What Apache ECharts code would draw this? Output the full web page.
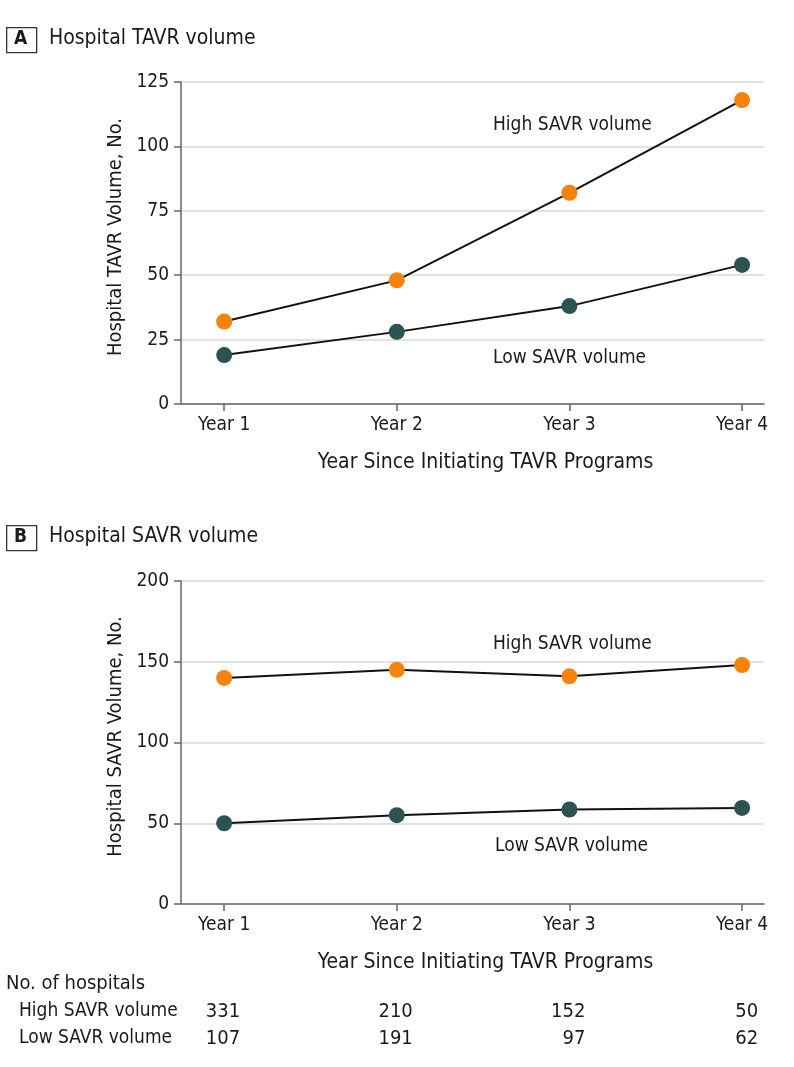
<!DOCTYPE html>
<html>
<head>
<meta charset="utf-8">
<script src="https://cdn.jsdelivr.net/npm/echarts@6/dist/echarts.min.js"></script>
<style>
  html, body { margin: 0; padding: 0; background: #fff; }
  #chart { width: 794px; height: 1067px; }
</style>
</head>
<body>
<div id="chart"></div>
<script>
  // data
  const years = ['Year 1', 'Year 2', 'Year 3', 'Year 4']
  const tavrHigh = [32, 48, 82, 118]
  const tavrLow = [19, 28, 38, 54]
  const savrHigh = [140, 145, 141, 148]
  const savrLow = [50, 55, 58.5, 59.5]
  const tableRows = ['High SAVR volume', 'Low SAVR volume']
  const hospitalsHigh = [331, 210, 152, 50]
  const hospitalsLow = [107, 191, 97, 62]
  const tavrTicks = [0, 25, 50, 75, 100, 125]
  const savrTicks = [0, 50, 100, 150, 200]

  const FONT = '"Liberation Sans Narrow", "DejaVu Sans Condensed", sans-serif'
  const ORANGE = '#f7830c'
  const GREEN = '#2b5351'
  const TEXT = '#1a1a1a'

  const pts = (arr) => arr.map((v, i) => [i + 1, v])

  function xAxis(gridIndex, withLabels) {
    return {
      gridIndex: gridIndex,
      type: 'value',
      min: 0.75,
      max: 4.127,
      name: withLabels ? 'Year Since Initiating TAVR Programs' : '',
      nameLocation: 'middle',
      nameGap: 48,
      nameTextStyle: { fontFamily: FONT, fontSize: 21, color: TEXT, padding: [0, 0, 0, 26] },
      splitLine: { show: false },
      axisLine: { show: withLabels, lineStyle: { color: '#666', width: 1.5 } },
      axisTick: { show: withLabels, customValues: [1, 2, 3, 4], length: 7, lineStyle: { color: '#666', width: 1.5 } },
      axisLabel: {
        show: withLabels,
        customValues: [1, 2, 3, 4],
        margin: 12,
        fontFamily: FONT,
        fontSize: 19,
        color: TEXT,
        formatter: (v) => years[Math.round(v) - 1]
      }
    }
  }

  function yAxis(gridIndex, max, interval, name) {
    return {
      gridIndex: gridIndex,
      type: 'value',
      min: 0,
      max: max,
      interval: interval,
      name: name,
      nameLocation: 'middle',
      nameGap: 55,
      nameMoveOverlap: false,
      nameRotate: 90,
      nameTextStyle: { fontFamily: FONT, fontSize: 20, color: TEXT, padding: [0, 0, 0, 12] },
      axisLine: { show: true, lineStyle: { color: '#666', width: 1.5 } },
      axisTick: { show: true, length: 7, lineStyle: { color: '#666', width: 1.5 } },
      axisLabel: { margin: 12, fontFamily: FONT, fontSize: 19, color: TEXT },
      splitLine: { show: true, lineStyle: { color: '#d9d9d9', width: 1.5 } }
    }
  }

  function lineSeries(xi, data, color) {
    return {
      type: 'line',
      xAxisIndex: xi,
      yAxisIndex: xi,
      data: pts(data),
      symbol: 'circle',
      symbolSize: 16,
      lineStyle: { color: '#111', width: 2 },
      itemStyle: { color: color },
      z: 3,
      animation: false
    }
  }

  // number-of-hospitals row, one label per year
  function tableSeries(row, values) {
    return {
      type: 'scatter',
      xAxisIndex: 2,
      yAxisIndex: 2,
      symbolSize: 0,
      itemStyle: { opacity: 1 },
      data: values.map((v, i) => [i + 1, row, v]),
      label: {
        show: true,
        position: [16, 0],
        align: 'right',
        verticalAlign: 'middle',
        fontFamily: FONT,
        fontSize: 20,
        color: TEXT,
        formatter: (p) => String(p.value[2])
      },
      animation: false
    }
  }

  function panelTitle(letter, title, y) {
    return [
      { type: 'rect', left: 6, top: y, shape: { width: 30, height: 25 }, style: { fill: '#fff', stroke: '#333', lineWidth: 1.3 } },
      { type: 'text', left: 14, top: y + 3, style: { text: letter, font: 'bold 19px ' + FONT, fill: TEXT } },
      { type: 'text', left: 49, top: y + 1, style: { text: title, font: '21px ' + FONT, fill: TEXT } }
    ]
  }

  function note(text, x, y) {
    return { type: 'text', left: x, top: y, style: { text: text, font: '19px ' + FONT, fill: TEXT } }
  }

  const chart = echarts.init(document.getElementById('chart'))
  chart.setOption({
    backgroundColor: '#fff',
    animation: false,
    grid: [
      { left: 181, right: 30, top: 82, height: 322 },
      { left: 181, right: 30, top: 581, height: 323 },
      { left: 181, right: 30, top: 998, height: 54 }
    ],
    xAxis: [xAxis(0, true), xAxis(1, true), xAxis(2, false)],
    yAxis: [
      yAxis(0, tavrTicks[tavrTicks.length - 1], tavrTicks[1] - tavrTicks[0], 'Hospital TAVR Volume, No.'),
      yAxis(1, savrTicks[savrTicks.length - 1], savrTicks[1] - savrTicks[0], 'Hospital SAVR Volume, No.'),
      {
        gridIndex: 2,
        type: 'category',
        inverse: true,
        data: tableRows,
        axisLine: { show: false },
        axisTick: { show: false },
        splitLine: { show: false },
        axisLabel: { align: 'left', margin: 162, fontFamily: FONT, fontSize: 19, color: TEXT }
      }
    ],
    graphic: [
      ...panelTitle('A', 'Hospital TAVR volume', 27),
      ...panelTitle('B', 'Hospital SAVR volume', 525),
      note('High SAVR volume', 493, 116),
      note('Low SAVR volume', 493, 349),
      note('High SAVR volume', 493, 635),
      note('Low SAVR volume', 495, 837),
      { type: 'text', left: 6, top: 974, style: { text: 'No. of hospitals', font: '20px ' + FONT, fill: TEXT } }
    ],
    series: [
      lineSeries(0, tavrHigh, ORANGE),
      lineSeries(0, tavrLow, GREEN),
      lineSeries(1, savrHigh, ORANGE),
      lineSeries(1, savrLow, GREEN),
      tableSeries(tableRows[0], hospitalsHigh),
      tableSeries(tableRows[1], hospitalsLow)
    ]
  })
</script>
</body>
</html>
